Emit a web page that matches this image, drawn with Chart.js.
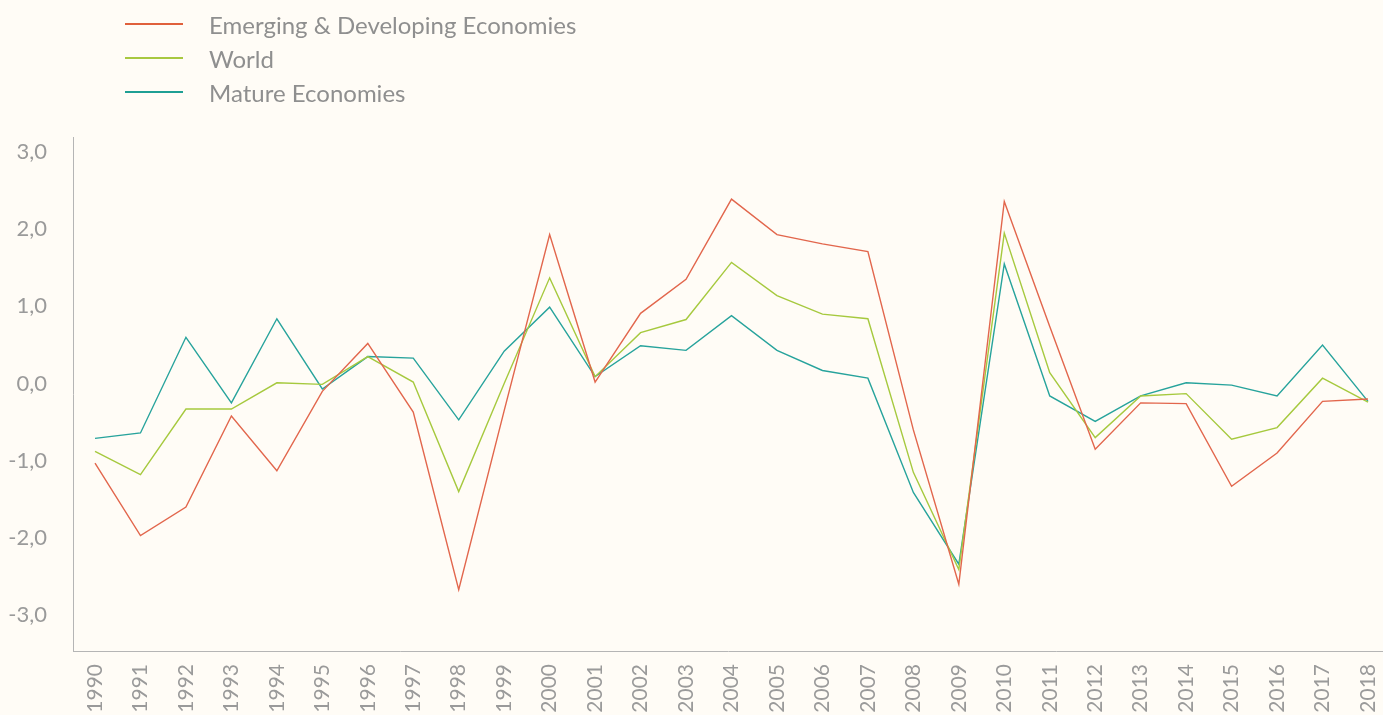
<!DOCTYPE html>
<html>
<head>
<meta charset="utf-8">
<script src="https://cdn.jsdelivr.net/npm/chart.js@4/dist/chart.umd.min.js"></script>
<style>
  html, body { margin: 0; padding: 0; background: #fffcf6; overflow: hidden; }
  #wrap { position: relative; width: 1383px; height: 715px; }
  #legend { position: absolute; left: 125px; top: 7px; font-family: "Lato", sans-serif; font-size: 24px; color: #8f8f8f; }
  .row { display: flex; align-items: center; height: 34px; }
  .swatch { width: 58px; height: 2px; margin-right: 26px; }
</style>
</head>
<body>
<div id="wrap">
  <canvas id="c" width="1383" height="715"></canvas>
  <div id="legend"></div>
</div>
<script>
const years = [1990,1991,1992,1993,1994,1995,1996,1997,1998,1999,2000,2001,2002,2003,2004,2005,2006,2007,2008,2009,2010,2011,2012,2013,2014,2015,2016,2017,2018];
const emerging = [-1.03,-1.97,-1.60,-0.42,-1.13,-0.10,0.52,-0.37,-2.67,-0.35,1.93,0.02,0.91,1.35,2.39,1.93,1.81,1.71,-0.60,-2.60,2.36,0.74,-0.85,-0.25,-0.26,-1.33,-0.90,-0.23,-0.20];
const world = [-0.88,-1.18,-0.33,-0.33,0.01,-0.01,0.35,0.02,-1.40,0.00,1.37,0.09,0.66,0.83,1.57,1.14,0.90,0.84,-1.15,-2.41,1.95,0.14,-0.70,-0.16,-0.13,-0.72,-0.57,0.07,-0.24];
const mature = [-0.71,-0.64,0.60,-0.25,0.84,-0.07,0.35,0.33,-0.47,0.42,0.99,0.09,0.49,0.43,0.88,0.43,0.17,0.07,-1.41,-2.34,1.55,-0.16,-0.49,-0.16,0.01,-0.02,-0.16,0.50,-0.23];
const yTicks = [-3,-2,-1,0,1,2,3];
const seriesNames = ["Emerging & Developing Economies","World","Mature Economies"];
const lineColors = ["#e2664c","#a6c93e","#27a39c"];
const legendColors = ["#e0603c","#a8c840","#1f9f94"];

const legend = document.getElementById('legend');
seriesNames.forEach((n, i) => {
  const r = document.createElement('div'); r.className = 'row';
  const s = document.createElement('div'); s.className = 'swatch'; s.style.background = legendColors[i];
  const t = document.createElement('span'); t.textContent = n;
  r.appendChild(s); r.appendChild(t); legend.appendChild(r);
});

const toPts = arr => arr.map((v, i) => ({x: years[i], y: v}));

new Chart(document.getElementById('c'), {
  type: 'line',
  data: {
    datasets: [emerging, world, mature].map((arr, i) => ({
      label: seriesNames[i],
      data: toPts(arr),
      borderColor: lineColors[i],
      borderWidth: 1.4,
      pointRadius: 0,
      tension: 0,
      fill: false
    }))
  },
  options: {
    responsive: false,
    devicePixelRatio: 1,
    animation: false,
    layout: {padding: {top: 137, right: 0, bottom: 0, left: 0}},
    plugins: {legend: {display: false}, tooltip: {enabled: false}},
    scales: {
      x: {
        type: 'linear',
        min: 1989.516, max: 2018.33,
        afterBuildTicks: s => { s.ticks = years.map(v => ({value: v})); },
        afterFit: s => { s.height = 64; s.paddingLeft = 0; s.paddingRight = 0; },
        grid: {display: false, drawTicks: false},
        border: {display: true, color: '#b5b5b5', width: 1},
        ticks: {
          autoSkip: false, minRotation: 90, maxRotation: 90, padding: 13,
          color: '#9a9a9a', font: {family: "Lato", size: 21},
          callback: v => String(v)
        }
      },
      y: {
        min: -3.465, max: 3.195,
        afterBuildTicks: s => { s.ticks = yTicks.map(v => ({value: v})); },
        afterFit: s => { s.width = 73; },
        grid: {display: false, drawTicks: false},
        border: {display: true, color: '#b5b5b5', width: 1},
        ticks: {
          padding: 26, color: '#9a9a9a', font: {family: "Lato", size: 22},
          callback: v => v.toFixed(1).replace('.', ',')
        }
      }
    }
  }
});
</script>
</body>
</html>
